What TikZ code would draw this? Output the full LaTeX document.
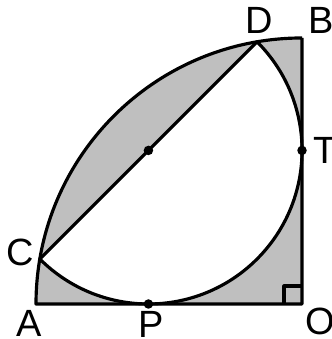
\documentclass[tikz,border=0pt]{standalone}
\usepackage{fontspec}
\setmainfont{Liberation Sans}
\begin{document}
\begin{tikzpicture}[
  every node/.style = {font=\fontsize{10.8}{11}\selectfont, inner sep=0pt},
  linha/.style = {line width=0.9pt, line join=round},
  cinza/.style = {fill=black!25},
  ponto/.style = {circle, fill=black, inner sep=0pt, minimum size=0.095cm}
]
% raio do quadrante: R; raio do circulo inscrito: r = R/sqrt(3)
\def\R{2.66}
\def\r{1.5358}
\useasboundingbox (0,0) rectangle (3.31,3.39);

\begin{scope}[shift={(3.02,0.35)}]
\coordinate (O) at (0,0);
\coordinate (A) at (-\R,0);
\coordinate (B) at (0,\R);
\coordinate (C) at (170.26:\R);
\coordinate (D) at (99.74:\R);
\coordinate (M) at (-\r,\r);
\coordinate (P) at (-\r,0);
\coordinate (T) at (0,\r);

% regiao sombreada
\fill[cinza] (O) -- (A) arc[start angle=180, end angle=90, radius=\R] -- cycle;
\fill[white] (C) arc[start angle=225, end angle=405, radius=\r] -- cycle;

% quadrante
\draw[linha] (B) -- (O) -- (A) arc[start angle=180, end angle=90, radius=\R];
\draw[linha] (C) arc[start angle=225, end angle=405, radius=\r] -- cycle;
\draw[linha] (O) ++(-0.18,0) |- ++(0.18,0.18);

\node[ponto] (m) at (M) {};
\node[ponto] (p) at (P) {};
\node[ponto] (t) at (T) {};

% rotulos
\node (lA) at (-2.73,-0.19) {A};
\node (lP) at (-1.51,-0.2) {P};
\node (lO) at (0.18,-0.17) {O};
\node (lC) at (-2.82,0.52) {C};
\node (lD) at (-0.43,2.84) {D};
\node (lB) at (0.19,2.84) {B};
\node (lT) at (0.235,1.54) {T};
\end{scope}
\end{tikzpicture}
\end{document}
